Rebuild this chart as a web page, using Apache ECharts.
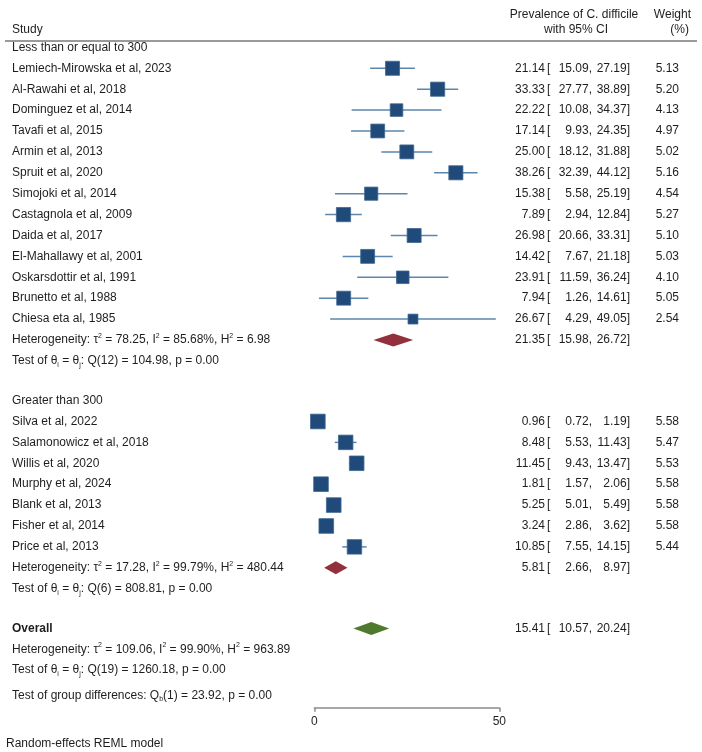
<!DOCTYPE html>
<html><head><meta charset="utf-8">
<script src="https://cdn.jsdelivr.net/npm/echarts@6/dist/echarts.min.js"></script>
<style>html,body{margin:0;padding:0;background:#fff}#c{width:702px;height:752px}</style>
</head><body><div id="c"></div>
<script>
// ---------------- data ----------------
const group1Label = 'Less than or equal to 300';
const group1Studies = ['Lemiech-Mirowska et al, 2023','Al-Rawahi et al, 2018','Dominguez et al, 2014','Tavafi et al, 2015','Armin et al, 2013','Spruit et al, 2020','Simojoki et al, 2014','Castagnola et al, 2009','Daida et al, 2017','El-Mahallawy et al, 2001','Oskarsdottir et al, 1991','Brunetto et al, 1988','Chiesa eta al, 1985'];
const group1Est = [21.14,33.33,22.22,17.14,25.00,38.26,15.38,7.89,26.98,14.42,23.91,7.94,26.67];
const group1Lo = [15.09,27.77,10.08,9.93,18.12,32.39,5.58,2.94,20.66,7.67,11.59,1.26,4.29];
const group1Hi = [27.19,38.89,34.37,24.35,31.88,44.12,25.19,12.84,33.31,21.18,36.24,14.61,49.05];
const group1Weight = [5.13,5.20,4.13,4.97,5.02,5.16,4.54,5.27,5.10,5.03,4.10,5.05,2.54];
const group1Pooled = [21.35,15.98,26.72];
const group1Het = ['78.25','85.68','6.98'];      // tau2, I2, H2
const group1Test = ['12','104.98','0.00'];       // df, Q, p

const group2Label = 'Greater than 300';
const group2Studies = ['Silva et al, 2022','Salamonowicz et al, 2018','Willis et al, 2020','Murphy et al, 2024','Blank et al, 2013','Fisher et al, 2014','Price et al, 2013'];
const group2Est = [0.96,8.48,11.45,1.81,5.25,3.24,10.85];
const group2Lo = [0.72,5.53,9.43,1.57,5.01,2.86,7.55];
const group2Hi = [1.19,11.43,13.47,2.06,5.49,3.62,14.15];
const group2Weight = [5.58,5.47,5.53,5.58,5.58,5.58,5.44];
const group2Pooled = [5.81,2.66,8.97];
const group2Het = ['17.28','99.79','480.44'];
const group2Test = ['6','808.81','0.00'];

const overallPooled = [15.41,10.57,20.24];
const overallHet = ['109.06','99.90','963.89'];
const overallTest = ['19','1260.18','0.00'];
const groupDiffTest = ['1','23.92','0.00'];

const xTicks = [0, 50];

// ---------------- layout of rows ----------------
const rows = [];
let y = 0;
function hetText(h){ return 'Heterogeneity: τ{sup|2} = ' + h[0] + ', I{sup|2} = ' + h[1] + '%, H{sup|2} = ' + h[2]; }
function testText(t){ return 'Test of θ{sub|i} = θ{sub|j}: Q(' + t[0] + ') = ' + t[1] + ', p = ' + t[2]; }
function addGroup(label, names, est, lo, hi, w, pooled, het, test){
  rows.push({y:y, text:label}); y += 1;
  names.forEach(function(n,i){ rows.push({y:y, text:n, kind:'study', est:est[i], lo:lo[i], hi:hi[i], w:w[i]}); y += 1; });
  rows.push({y:y, text:hetText(het), kind:'pooled', est:pooled[0], lo:pooled[1], hi:pooled[2], color:'#92303b'}); y += 1;
  rows.push({y:y, text:testText(test)}); y += 1.9;
}
addGroup(group1Label, group1Studies, group1Est, group1Lo, group1Hi, group1Weight, group1Pooled, group1Het, group1Test);
addGroup(group2Label, group2Studies, group2Est, group2Lo, group2Hi, group2Weight, group2Pooled, group2Het, group2Test);
rows.push({y:y, text:'{b|Overall}', kind:'pooled', est:overallPooled[0], lo:overallPooled[1], hi:overallPooled[2], color:'#4f7a2d'}); y += 1;
rows.push({y:y, text:hetText(overallHet)}); y += 1;
rows.push({y:y, text:testText(overallTest)}); y += 1.2;
rows.push({y:y, text:'Test of group differences: Q{sub|b}(' + groupDiffTest[0] + ') = ' + groupDiffTest[1] + ', p = ' + groupDiffTest[2]});

const FONT = '"Liberation Sans", Arial, sans-serif';
const FS = 12;
const TXT = '#1e1e1e';
const rich = {
  sup: {fontSize: 7, lineHeight: 7, verticalAlign: 'top', fill: TXT, fontFamily: FONT},
  sub: {fontSize: 7, lineHeight: 7, verticalAlign: 'bottom', fill: TXT, fontFamily: FONT},
  b: {fontSize: FS, fontWeight: 'bold', fill: TXT, fontFamily: FONT}
};

const studyRows = rows.filter(function(r){ return r.kind === 'study'; });
const pooledRows = rows.filter(function(r){ return r.kind === 'pooled'; });

function txt(x, yy, s, align){
  return {type: 'text', x: x, y: yy, style: {text: s, fill: TXT, fontSize: FS, fontFamily: FONT, align: align, verticalAlign: 'middle', lineHeight: 15, rich: rich}};
}
function gtxt(x, yy, s, align){
  return {type: 'text', x: x, y: yy, style: {text: s, fill: TXT, font: FS + 'px ' + FONT, align: align, verticalAlign: 'middle'}};
}

const chart = echarts.init(document.getElementById('c'), null, {renderer: 'canvas'});
chart.setOption({
  backgroundColor: '#ffffff',
  animation: false,
  grid: {left: 314.3, width: 185, top: 26.5, height: 681.3, outerBoundsMode: 'none', containLabel: false},
  xAxis: {
    type: 'value', min: xTicks[0], max: xTicks[1], interval: xTicks[1] - xTicks[0], position: 'bottom',
    axisLine: {show: true, onZero: false, lineStyle: {color: '#8c8c8c', width: 1.5}},
    axisTick: {show: true, length: 4, lineStyle: {color: '#8c8c8c', width: 1.5}},
    splitLine: {show: false},
    axisLabel: {color: TXT, fontSize: FS, fontFamily: FONT, margin: 8}
  },
  yAxis: {type: 'value', inverse: true, min: -1, max: 31.6, show: false},
  graphic: [
    gtxt(574, 15, 'Prevalence of C. difficile', 'center'),
    gtxt(576, 30, 'with 95% CI', 'center'),
    gtxt(691, 15, 'Weight', 'right'),
    gtxt(689, 30, '(%)', 'right'),
    gtxt(12, 30, 'Study', 'left'),
    {type: 'line', shape: {x1: 5, y1: 41, x2: 697, y2: 41}, style: {stroke: '#9a9a9a', lineWidth: 2}},
    gtxt(6, 744, 'Random-effects REML model', 'left')
  ],
  series: [
    {
      type: 'custom', name: 'text', silent: true,
      data: rows.map(function(r){ return [0, r.y]; }),
      encode: {x: 0, y: 1},
      renderItem: function(params, api){
        const r = rows[params.dataIndex];
        const py = api.coord([0, api.value(1)])[1];
        const ch = [txt(12, py, r.text, 'left')];
        if (r.kind) {
          ch.push(txt(545, py, r.est.toFixed(2), 'right'));
          ch.push(txt(547, py, '[', 'left'));
          ch.push(txt(592, py, r.lo.toFixed(2) + ',', 'right'));
          ch.push(txt(630, py, r.hi.toFixed(2) + ']', 'right'));
        }
        if (r.kind === 'study') ch.push(txt(679, py, r.w.toFixed(2), 'right'));
        return {type: 'group', children: ch};
      }
    },
    {
      type: 'custom', name: 'studies', silent: true,
      data: studyRows.map(function(r){ return [r.est, r.lo, r.hi, r.y, r.w]; }),
      encode: {x: [0, 1, 2], y: 3},
      renderItem: function(params, api){
        const p = api.coord([api.value(0), api.value(3)]);
        const pl = api.coord([api.value(1), api.value(3)]);
        const ph = api.coord([api.value(2), api.value(3)]);
        const side = 6.2 * Math.sqrt(api.value(4));
        return {type: 'group', children: [
          {type: 'line', shape: {x1: pl[0], y1: p[1], x2: ph[0], y2: p[1]}, style: {stroke: '#5d86ae', lineWidth: 1.5}},
          {type: 'rect', shape: {x: p[0] - side / 2, y: p[1] - side / 2, width: side, height: side}, style: {fill: '#1f4a7a', stroke: '#3f6790', lineWidth: 0.8}}
        ]};
      }
    },
    {
      type: 'custom', name: 'pooled', silent: true,
      data: pooledRows.map(function(r){ return [r.est, r.lo, r.hi, r.y]; }),
      encode: {x: [0, 1, 2], y: 3},
      renderItem: function(params, api){
        const r = pooledRows[params.dataIndex];
        const p = api.coord([api.value(0), api.value(3)]);
        const pl = api.coord([api.value(1), api.value(3)]);
        const ph = api.coord([api.value(2), api.value(3)]);
        const hh = 6.5;
        return {type: 'polygon', shape: {points: [[pl[0], p[1]], [p[0], p[1] - hh], [ph[0], p[1]], [p[0], p[1] + hh]]}, style: {fill: r.color}};
      }
    }
  ]
});
</script>
</body></html>
